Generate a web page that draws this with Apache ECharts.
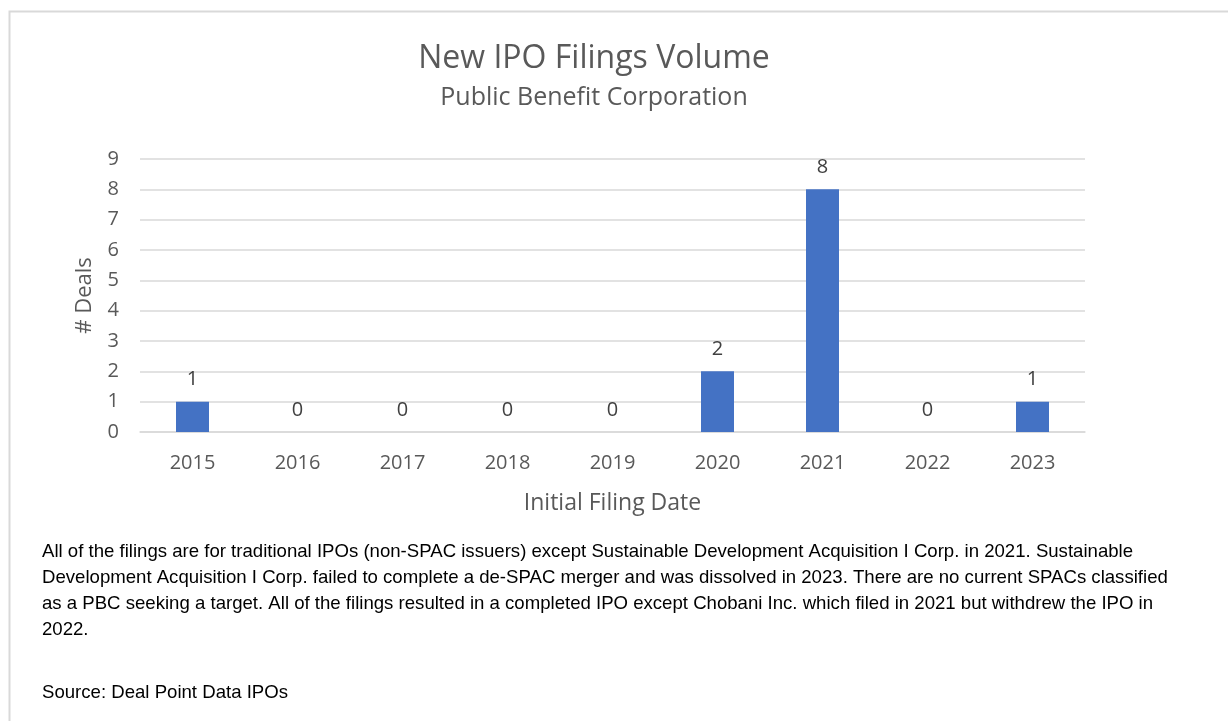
<!DOCTYPE html>
<html>
<head>
<meta charset="utf-8">
<script src="https://cdn.jsdelivr.net/npm/echarts@6/dist/echarts.min.js"></script>
<style>
html, body { margin: 0; padding: 0; background: #fff; }
#main { width: 1228px; height: 721px; }
</style>
</head>
<body>
<div id="main"></div>
<script>
var years = ['2015', '2016', '2017', '2018', '2019', '2020', '2021', '2022', '2023'];
var deals = [1, 0, 0, 0, 0, 2, 8, 0, 1];
var yTicks = { min: 0, max: 9, interval: 1 };

var noteLines = [
    'All of the filings are for traditional IPOs (non-SPAC issuers) except Sustainable Development Acquisition I Corp. in 2021. Sustainable',
    'Development Acquisition I Corp. failed to complete a de-SPAC merger and was dissolved in 2023. There are no current SPACs classified',
    'as a PBC seeking a target. All of the filings resulted in a completed IPO except Chobani Inc. which filed in 2021 but withdrew the IPO in',
    '2022.'
];
var sourceText = 'Source: Deal Point Data IPOs';

var font = '"Open Sans", "Noto Sans", sans-serif';
var noteFont = '"Liberation Sans", sans-serif';
var grey = '#595959';

var graphics = [{
    type: 'rect',
    shape: { x: 9.5, y: 11.5, width: 1240, height: 720 },
    style: { fill: 'none', stroke: '#d9d9d9', lineWidth: 2 },
    silent: true
}];
noteLines.forEach(function (line, i) {
    graphics.push({
        type: 'text',
        left: 42,
        top: 542 + i * 26,
        style: { text: line, font: '18.6px ' + noteFont, fill: '#000' }
    });
});
graphics.push({
    type: 'text',
    left: 42,
    top: 683,
    style: { text: sourceText, font: '18.6px ' + noteFont, fill: '#000' }
});

var chart = echarts.init(document.getElementById('main'));
chart.setOption({
    backgroundColor: '#fff',
    animation: false,
    title: {
        text: 'New IPO Filings Volume',
        subtext: 'Public Benefit Corporation',
        left: 589,
        textAlign: 'center',
        top: 38,
        itemGap: 10,
        textStyle: { fontFamily: font, fontSize: 32, fontWeight: 'normal', color: grey },
        subtextStyle: { fontFamily: font, fontSize: 25, color: grey }
    },
    grid: { left: 140, right: 143, top: 159, bottom: 289 },
    xAxis: {
        type: 'category',
        data: years,
        name: 'Initial Filing Date',
        nameLocation: 'middle',
        nameGap: 60,
        nameTextStyle: { fontFamily: font, fontSize: 23, color: grey },
        axisLine: { lineStyle: { color: '#d9d9d9', width: 1.5 } },
        axisTick: { show: false },
        axisLabel: { fontFamily: font, fontSize: 20, color: grey, margin: 21 }
    },
    yAxis: {
        type: 'value',
        min: yTicks.min,
        max: yTicks.max,
        interval: yTicks.interval,
        name: '# Deals',
        nameLocation: 'middle',
        nameGap: 44,
        nameTextStyle: { fontFamily: font, fontSize: 22, color: grey },
        axisLine: { show: false },
        axisTick: { show: false },
        axisLabel: { fontFamily: font, fontSize: 20, color: grey, margin: 21 },
        splitLine: { lineStyle: { color: '#d9d9d9', width: 1.5 } }
    },
    series: [{
        type: 'bar',
        data: deals,
        barWidth: 33,
        itemStyle: { color: '#4472c4' },
        label: {
            show: true,
            position: 'top',
            distance: 12,
            fontFamily: font,
            fontSize: 20,
            color: '#404040'
        }
    }],
    graphic: graphics
});
</script>
</body>
</html>
